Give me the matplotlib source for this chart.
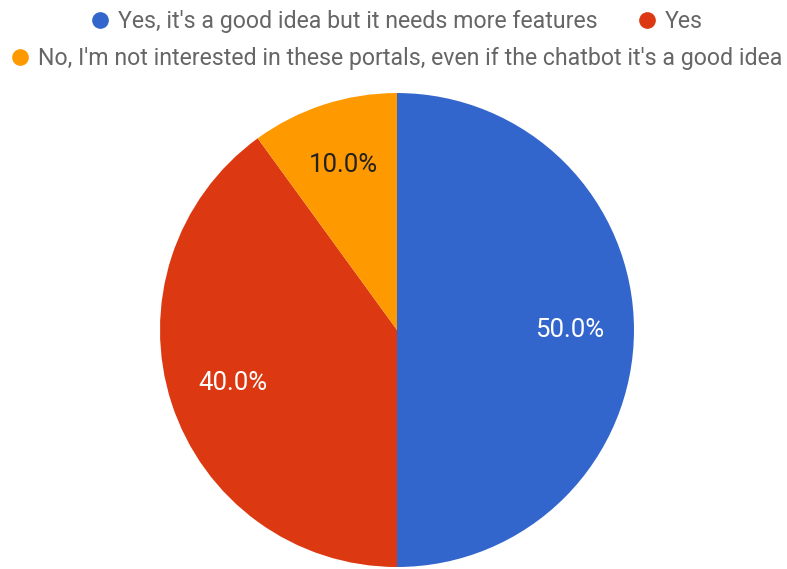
import matplotlib.pyplot as plt

plt.rcParams['font.family'] = ['Roboto', 'DejaVu Sans']

# 응답 데이터
labels = ["Yes, it's a good idea but it needs more features",
          "Yes",
          "No, I'm not interested in these portals, even if the chatbot it's a good idea"]
values = [50, 40, 10]
colors = ['#3366cc', '#dc3912', '#ff9900']
pct_colors = ['white', 'white', '#222222']

fig = plt.figure(figsize=(7.87, 5.69), dpi=100)

# 파이 차트
ax = fig.add_axes([0.2033, 0.0035, 0.6023, 0.833])
wedges, texts, autotexts = ax.pie(values, colors=colors, startangle=90, counterclock=False,
                                  autopct='%.1f%%', pctdistance=0.73, radius=1.0)
for t, c in zip(autotexts, pct_colors):
    t.set_color(c)
    t.set_fontsize(18.5)
ax.set_xlim(-1, 1)
ax.set_ylim(-1, 1)
ax.set_aspect('equal')

# 범례 (수동 배치)
leg = fig.add_axes([0, 0, 1, 1], facecolor='none')
leg.set_xlim(0, 787)
leg.set_ylim(569, 0)
leg.axis('off')
items = [(100, 20, 0), (647, 20, 1), (20, 57, 2)]
for x, y, i in items:
    leg.plot([x], [y], 'o', color=colors[i], markersize=11)
    leg.text(x + 18, y + 1, labels[i], fontsize=16.7, color='#666666',
             va='center', ha='left')

fig.savefig('out.png', dpi=100)
